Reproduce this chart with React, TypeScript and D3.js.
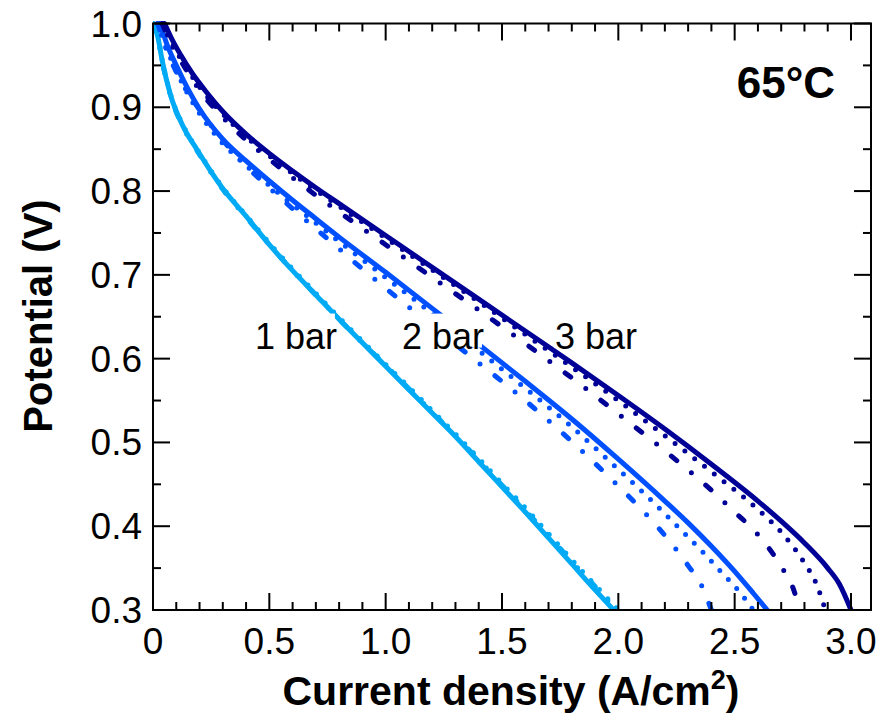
import React from 'react';
import * as d3 from 'd3';

// polarisation curves: [current density A/cm2, potential V]
const bar3Solid: [number, number][] = [
  [0.05, 1.0], [0.08, 0.982], [0.12, 0.962], [0.17, 0.94], [0.23, 0.918], [0.3, 0.895], [0.4, 0.868],
  [0.5, 0.845], [0.6, 0.824], [0.7, 0.804], [0.8, 0.785], [1.0, 0.747], [1.2, 0.709], [1.4, 0.671],
  [1.6, 0.633], [1.8, 0.595], [2.0, 0.556], [2.2, 0.516], [2.4, 0.474], [2.6, 0.43], [2.7, 0.406],
  [2.8, 0.38], [2.9, 0.35], [2.95, 0.331], [3.0, 0.3],
];
const bar3Dot: [number, number][] = [
  [0.04, 1.0], [0.07, 0.982], [0.11, 0.962], [0.16, 0.94], [0.22, 0.917], [0.3, 0.892], [0.4, 0.865],
  [0.5, 0.842], [0.6, 0.821], [0.7, 0.801], [0.8, 0.782], [1.0, 0.744], [1.2, 0.706], [1.4, 0.668],
  [1.6, 0.629], [1.8, 0.59], [2.0, 0.55], [2.2, 0.508], [2.4, 0.465], [2.6, 0.42], [2.7, 0.393],
  [2.8, 0.356], [2.85, 0.332], [2.89, 0.3],
];
const bar3DashDot: [number, number][] = [
  [0.04, 1.0], [0.07, 0.98], [0.11, 0.96], [0.16, 0.937], [0.22, 0.913], [0.3, 0.888], [0.4, 0.861],
  [0.5, 0.838], [0.6, 0.816], [0.7, 0.795], [0.8, 0.775], [1.0, 0.736], [1.2, 0.697], [1.4, 0.658],
  [1.6, 0.618], [1.8, 0.577], [2.0, 0.534], [2.2, 0.49], [2.4, 0.443], [2.5, 0.417], [2.6, 0.39],
  [2.7, 0.352], [2.75, 0.327], [2.78, 0.3],
];
const bar2Solid: [number, number][] = [
  [0.03, 1.0], [0.06, 0.975], [0.1, 0.95], [0.15, 0.922], [0.2, 0.898], [0.3, 0.862], [0.4, 0.836],
  [0.5, 0.812], [0.6, 0.789], [0.7, 0.767], [0.8, 0.745], [1.0, 0.703], [1.2, 0.66], [1.4, 0.617],
  [1.6, 0.573], [1.8, 0.528], [2.0, 0.48], [2.2, 0.43], [2.3, 0.404], [2.4, 0.376], [2.5, 0.346],
  [2.58, 0.32], [2.64, 0.3],
];
const bar2Dot: [number, number][] = [
  [0.02, 1.0], [0.05, 0.975], [0.09, 0.95], [0.14, 0.921], [0.19, 0.897], [0.29, 0.86], [0.39, 0.833],
  [0.49, 0.809], [0.59, 0.786], [0.69, 0.764], [0.79, 0.742], [0.99, 0.699], [1.19, 0.656], [1.39, 0.612],
  [1.59, 0.567], [1.79, 0.521], [1.98, 0.473], [2.16, 0.426], [2.26, 0.398], [2.36, 0.37], [2.45, 0.343],
  [2.52, 0.322], [2.58, 0.3],
];
const bar2DashDot: [number, number][] = [
  [0.02, 1.0], [0.05, 0.975], [0.09, 0.948], [0.14, 0.922], [0.2, 0.897], [0.29, 0.864], [0.4, 0.83],
  [0.5, 0.804], [0.6, 0.779], [0.7, 0.755], [0.8, 0.731], [0.9, 0.707], [1.0, 0.684], [1.2, 0.639],
  [1.4, 0.595], [1.6, 0.55], [1.8, 0.501], [2.0, 0.448], [2.1, 0.42], [2.2, 0.389], [2.3, 0.353],
  [2.36, 0.328], [2.4, 0.3],
];
const bar1Solid: [number, number][] = [
  [0.0, 1.0], [0.02, 0.985], [0.04, 0.955], [0.075, 0.915], [0.13, 0.877], [0.19, 0.849], [0.25, 0.823],
  [0.3, 0.803], [0.4, 0.77], [0.5, 0.736], [0.6, 0.705], [0.7, 0.676], [0.8, 0.647], [0.9, 0.619],
  [1.0, 0.591], [1.1, 0.563], [1.2, 0.535], [1.3, 0.507], [1.4, 0.477], [1.5, 0.447], [1.6, 0.417],
  [1.7, 0.386], [1.8, 0.355], [1.9, 0.324], [1.98, 0.3],
];
const bar1Dot: [number, number][] = [
  [0.0, 1.0], [0.02, 0.986], [0.04, 0.956], [0.075, 0.916], [0.13, 0.878], [0.19, 0.85], [0.25, 0.824],
  [0.3, 0.804], [0.4, 0.771], [0.5, 0.738], [0.6, 0.707], [0.7, 0.678], [0.8, 0.649], [0.9, 0.621],
  [1.0, 0.593], [1.1, 0.566], [1.2, 0.538], [1.3, 0.51], [1.4, 0.481], [1.5, 0.451], [1.6, 0.422],
  [1.7, 0.391], [1.8, 0.36], [1.9, 0.33], [2.0, 0.3],
];
const bar1DashDot: [number, number][] = [
  [0.0, 1.0], [0.02, 0.984], [0.04, 0.954], [0.075, 0.914], [0.13, 0.876], [0.19, 0.848], [0.25, 0.822],
  [0.3, 0.802], [0.4, 0.769], [0.5, 0.736], [0.6, 0.705], [0.7, 0.676], [0.8, 0.647], [0.9, 0.619],
  [1.0, 0.592], [1.1, 0.564], [1.2, 0.536], [1.3, 0.508], [1.4, 0.479], [1.5, 0.449], [1.6, 0.419],
  [1.7, 0.389], [1.8, 0.358], [1.9, 0.328], [1.99, 0.3],
];

const pressures = ['1 bar', '2 bar', '3 bar'];
// label anchors in data units (current density, potential)
const pressureLabelAt: [number, number][] = [[0.438, 0.612], [1.07, 0.612], [1.728, 0.612]];

const xTicks = [0, 0.5, 1.0, 1.5, 2.0, 2.5, 3.0];
const xTickLabels = ['0', '0.5', '1.0', '1.5', '2.0', '2.5', '3.0'];
const yTicks = [0.3, 0.4, 0.5, 0.6, 0.7, 0.8, 0.9, 1.0];
const yTickLabels = ['0.3', '0.4', '0.5', '0.6', '0.7', '0.8', '0.9', '1.0'];

const W = 890;
const H = 728;
const left = 153, right = 871, top = 23.5, bottom = 610;
const FONT = '"Liberation Sans", Arial, Helvetica, sans-serif';

const colors = ['#00aaf5', '#0050ff', '#000096'];

export default function App() {
  const x = d3.scaleLinear().domain([0, 3.086]).range([left, right]);
  const y = d3.scaleLinear().domain([0.3, 1.0]).range([bottom, top]);
  const line = d3.line<[number, number]>()
    .x(d => x(d[0]))
    .y(d => y(d[1]))
    .curve(d3.curveMonotoneX);

  const dotted = '0 12.4';
  const dashDot = '7 19 0 19';
  // draw order: dash-dot, dotted, solid for each pressure
  const series = [
    { data: bar1DashDot, c: colors[0], dash: dashDot },
    { data: bar1Dot, c: colors[0], dash: dotted },
    { data: bar1Solid, c: colors[0], dash: null },
    { data: bar2DashDot, c: colors[1], dash: dashDot },
    { data: bar2Dot, c: colors[1], dash: dotted },
    { data: bar2Solid, c: colors[1], dash: null },
    { data: bar3DashDot, c: colors[2], dash: dashDot },
    { data: bar3Dot, c: colors[2], dash: dotted },
    { data: bar3Solid, c: colors[2], dash: null },
  ];

  const minorX = d3.range(0, 31).map(k => k / 10).filter(v => Math.round(v * 10) % 5 !== 0);
  const minorY = d3.range(7, 20, 2).map(k => k / 20);

  const tickStyle = { stroke: '#000', strokeWidth: 2 };

  return (
    <svg width={W} height={H} style={{ position: 'absolute', left: 0, top: 0, background: '#fff' }}
      fontFamily={FONT}>
      <defs>
        <clipPath id="plot">
          <rect x={left} y={top - 3} width={right - left} height={bottom - top + 3} />
        </clipPath>
      </defs>

      <g clipPath="url(#plot)">
        {series.map((s, i) => (
          <path key={i} d={line(s.data) || ''} fill="none" stroke={s.c}
            strokeWidth={5} strokeLinecap="round" strokeLinejoin="round"
            strokeDasharray={s.dash || undefined} />
        ))}
      </g>

      {pressures.map((p, i) => {
        const tx = x(pressureLabelAt[i][0]);
        const ty = y(pressureLabelAt[i][1]);
        return (
          <g key={p}>
            <rect x={tx - 1} y={ty - 35} width={81} height={34} fill="#fff" />
            <text x={tx} y={ty} fontSize={36} fill="#000">{p}</text>
          </g>
        );
      })}

      {/* frame */}
      <rect x={left} y={top} width={right - left} height={bottom - top} fill="none" stroke="#000" strokeWidth={2} />

      {/* x ticks bottom and top */}
      {xTicks.map(v => (
        <g key={'xt' + v}>
          <line x1={x(v)} x2={x(v)} y1={bottom} y2={bottom - 17} {...tickStyle} />
          <line x1={x(v)} x2={x(v)} y1={top} y2={top + 17} {...tickStyle} />
        </g>
      ))}
      {minorX.map(v => (
        <g key={'xm' + v}>
          <line x1={x(v)} x2={x(v)} y1={bottom} y2={bottom - 8} {...tickStyle} />
          <line x1={x(v)} x2={x(v)} y1={top} y2={top + 8} {...tickStyle} />
        </g>
      ))}
      {xTicks.map((v, i) => (
        <text key={'xl' + v} x={x(v)} y={654} fontSize={37} textAnchor="middle">{xTickLabels[i]}</text>
      ))}

      {/* y ticks left and right */}
      {yTicks.map(v => (
        <g key={'yt' + v}>
          <line x1={left} x2={left + 17} y1={y(v)} y2={y(v)} {...tickStyle} />
          <line x1={right} x2={right - 17} y1={y(v)} y2={y(v)} {...tickStyle} />
        </g>
      ))}
      {minorY.map(v => (
        <g key={'ym' + v}>
          <line x1={left} x2={left + 8} y1={y(v)} y2={y(v)} {...tickStyle} />
          <line x1={right} x2={right - 8} y1={y(v)} y2={y(v)} {...tickStyle} />
        </g>
      ))}
      {yTicks.map((v, i) => (
        <text key={'yl' + v} x={142} y={y(v) + 13} fontSize={37} textAnchor="end">{yTickLabels[i]}</text>
      ))}

      {/* axis titles */}
      <text x={511} y={705} fontSize={41} fontWeight="bold" textAnchor="middle">
        Current density (A/cm<tspan fontSize={27} dy={-16}>2</tspan><tspan dy={16}>)</tspan>
      </text>
      <text transform={`translate(52, 316) rotate(-90)`} fontSize={40} fontWeight="bold" textAnchor="middle">
        Potential (V)
      </text>

      <text x={835} y={98} fontSize={44} fontWeight="bold" textAnchor="end">65°C</text>
    </svg>
  );
}
